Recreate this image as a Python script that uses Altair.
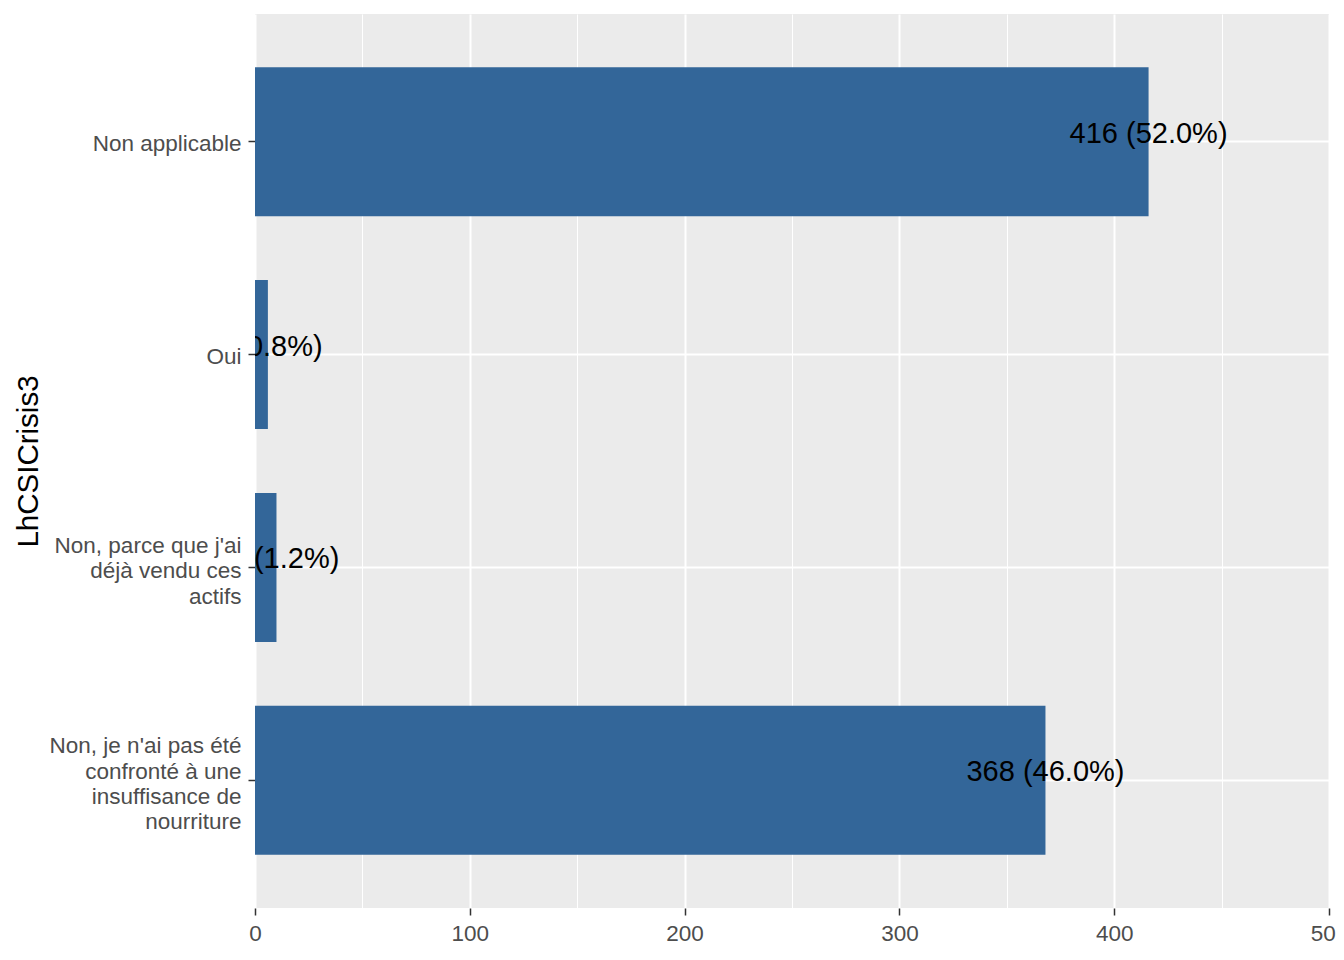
import altair as alt
import pandas as pd

categories = [
    "Non applicable",
    "Oui",
    "Non, parce que j'ai\ndéjà vendu ces\nactifs ",
    "Non, je n'ai pas été\nconfronté à une\ninsuffisance de\nnourriture",
]
counts = [416, 6, 10, 368]
percents = [52.0, 0.8, 1.2, 46.0]
x_ticks = [0, 50, 100, 150, 200, 250, 300, 350, 400, 450, 500]

df = pd.DataFrame({
    "cat": categories,
    "n": counts,
    "pct": percents,
})
df["label"] = [f"{n} ({p:.1f}%)" for n, p in zip(counts, percents)]

FONT = "Liberation Sans"
LH = 25.4

y_enc = alt.Y(
    "cat:N",
    sort=categories,
    scale=alt.Scale(paddingInner=0.3, paddingOuter=0.25),
    axis=alt.Axis(
        title="LhCSICrisis3",
        titleFont=FONT,
        titleFontSize=29.5,
        titleFontWeight="normal",
        titleColor="black",
        titleAngle=270,
        titleX=-227,
        titleY=447,
        titleAlign="center",
        titleBaseline="middle",
        labelFont=FONT,
        labelFontSize=22.5,
        labelColor="#4D4D4D",
        labelExpr="split(datum.label, '\\n')",
        labelLineHeight=LH,
        labelBaseline="middle",
        labelOffset={
            "condition": [
                {"test": "indexof(datum.label, 'parce') >= 0", "value": -LH + 4},
                {"test": "indexof(datum.label, 'nourriture') >= 0", "value": -1.5 * LH + 4},
            ],
            "value": 2,
        },
        labelPadding=7,
        labelLimit=400,
        tickSize=7,
        tickColor="#333333",
        tickWidth=1.5,
        bandPosition=0.5,
        domain=False,
        grid=True,
        gridColor="white",
        gridWidth=2,
    ),
)

x_enc = alt.X(
    "n:Q",
    scale=alt.Scale(domain=[0, 500], nice=False, zero=True),
    axis=alt.Axis(
        title=None,
        values=x_ticks,
        labelExpr="datum.value % 100 === 0 ? datum.label : ''",
        labelFont=FONT,
        labelFontSize=22.5,
        labelColor="#4D4D4D",
        labelPadding=7,
        labelFlush=False,
        labelOverlap=False,
        tickSize=7,
        tickColor="#333333",
        tickWidth=1.5,
        tickOpacity={"condition": {"test": "datum.value % 100 === 0", "value": 1}, "value": 0},
        domain=False,
        grid=True,
        gridColor="white",
        gridWidth={"condition": {"test": "datum.value % 100 === 0", "value": 2}, "value": 1},
    ),
)

bars = alt.Chart(df).mark_bar(color="#336699").encode(x=x_enc, y=y_enc)

text = alt.Chart(df).mark_text(
    font=FONT,
    fontSize=29,
    color="black",
    align="center",
    baseline="middle",
    dy=-8,
    clip=True,
).encode(
    x=alt.X("n:Q"),
    y=alt.Y("cat:N", sort=categories),
    text="label:N",
)

chart = alt.layer(bars, text).properties(
    width=1074,
    height=894,
    background="white",
    autosize=alt.AutoSizeParams(type="none"),
    padding={"left": 247, "top": 6, "right": 7, "bottom": 44},
).configure_view(fill="#EBEBEB", stroke=None)

chart.save("out.html", embed_options={"renderer": "svg", "actions": False})
